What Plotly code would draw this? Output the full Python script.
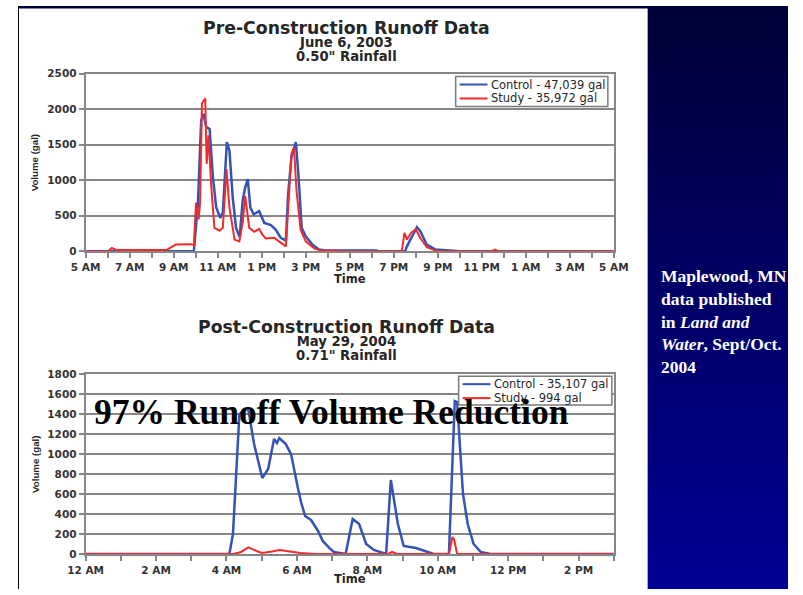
import plotly.graph_objects as go
from datetime import datetime, timedelta

W, H = 803, 595

# ---- Pre-construction event, June 6, 2003 (clock times, gallons) ----
pre_control_time = ["05:00", "09:55", "10:06", "10:15", "10:21", "10:29", "10:38", "10:47", "10:56",
                    "11:07", "11:14", "11:20", "11:25", "11:32", "11:41", "11:50", "12:00", "12:08",
                    "12:15", "12:22", "12:29", "12:38", "12:53", "13:07", "13:25", "13:38", "13:52",
                    "14:06", "14:12", "14:21", "14:33", "14:40", "14:49", "15:00", "15:18", "15:36",
                    "15:54", "18:12", "18:18", "19:31", "19:36", "19:48", "20:03", "20:12", "20:30",
                    "20:54", "21:54", "22:00", "05:00"]
pre_control_gal = [0, 0, 660, 1840, 1935, 1745, 1720, 1040, 615,
                   470, 545, 1085, 1535, 1415, 755, 330, 200, 710,
                   900, 1015, 615, 520, 565, 400, 370, 305, 190,
                   150, 800, 1320, 1535, 1085, 330, 210, 95, 25,
                   12, 10, 0, 0, 70, 190, 340, 285, 95,
                   25, 8, 0, 0]

pre_study_time = ["05:00", "06:02", "06:11", "06:24", "08:40", "09:06", "09:48", "09:55", "10:01",
                  "10:08", "10:12", "10:17", "10:21", "10:26", "10:30", "10:35", "10:42", "10:51",
                  "11:05", "11:14", "11:24", "11:32", "11:46", "11:59", "12:08", "12:15", "12:26",
                  "12:40", "12:53", "13:02", "13:11", "13:34", "13:47", "14:06", "14:15", "14:21",
                  "14:28", "14:35", "14:46", "15:00", "15:23", "15:41", "16:24", "16:30", "19:22",
                  "19:29", "19:36", "19:47", "20:00", "20:12", "20:30", "20:54", "21:12", "23:27",
                  "23:36", "23:48", "05:00"]
pre_study_gal = [0, 0, 47, 20, 18, 95, 100, 85, 685,
                 450, 680, 2080, 2110, 2150, 1230, 1630, 945, 330,
                 290, 330, 1155, 615, 165, 140, 400, 780, 330,
                 275, 315, 235, 180, 190, 140, 70, 850, 1370,
                 1460, 850, 305, 140, 40, 10, 8, 0, 0,
                 260, 165, 260, 310, 190, 57, 10, 0, 0,
                 25, 0, 0]

# ---- Post-construction event, May 29, 2004 ----
post_control_time = ["00:00", "04:05", "04:11", "04:22", "04:30", "04:37", "04:47", "05:01", "05:11",
                     "05:21", "05:26", "05:30", "05:41", "05:50", "06:02", "06:07", "06:14", "06:24",
                     "06:36", "06:44", "06:55", "07:03", "07:23", "07:35", "07:46", "07:58", "08:11",
                     "08:26", "08:32", "08:40", "08:52", "09:02", "09:23", "09:43", "09:53", "10:19",
                     "10:29", "10:33", "10:43", "10:51", "11:01", "11:13", "11:30", "15:00"]
post_control_gal = [0, 0, 200, 1400, 1440, 1450, 1100, 760, 850,
                    1150, 1110, 1160, 1100, 1000, 650, 520, 380, 340,
                    230, 130, 60, 20, 0, 350, 300, 100, 40,
                    10, 0, 740, 300, 80, 60, 20, 0, 0,
                    1530, 1520, 600, 300, 100, 20, 0, 0]

post_study_time = ["00:00", "04:12", "04:25", "04:37", "04:51", "05:00", "05:18", "05:30", "05:48",
                   "06:06", "06:30", "08:36", "08:42", "08:51", "10:19", "10:22", "10:25", "10:28",
                   "10:33", "15:00"]
post_study_gal = [0, 0, 20, 65, 30, 10, 25, 40, 25,
                  10, 0, 0, 20, 0, 0, 100, 170, 140,
                  0, 0]

pre_names = ["Control - 47,039 gal", "Study - 35,972 gal"]
post_names = ["Control - 35,107 gal", "Study - 994 gal"]
pre_title = ["Pre-Construction Runoff Data", "June 6, 2003", "0.50\" Rainfall"]
post_title = ["Post-Construction Runoff Data", "May 29, 2004", "0.71\" Rainfall"]


def stamps(day, times):
    """Clock strings -> datetimes, rolling to the next day when the clock wraps."""
    base = datetime.strptime(day, "%Y-%m-%d")
    out, offset, prev = [], 0, None
    for t in times:
        hh, mm = map(int, t.split(":"))
        cur = hh * 60 + mm
        if prev is not None and cur < prev:
            offset += 1
        prev = cur
        out.append(base + timedelta(days=offset, hours=hh, minutes=mm))
    return out


# Layout positions are given in slide pixels; the slide sits inset and slightly
# condensed inside the page, so convert slide pixels to paper fractions here.
INSET_X, INSET_Y = 16.0, 5.4
COND_X, COND_Y = 0.964, 0.981


def px_x(x):
    return (x - INSET_X) / COND_X / W


def px_y(y):
    return 1 - (y - INSET_Y) / COND_Y / H


def clamp(v):
    return min(1.0, max(0.0, v))


BLUE = "#3552b6"
RED = "#f42a2a"
GRID = "#868686"
TXT = "#262626"

fig = go.Figure()

series = [
    (stamps("2003-06-06", pre_control_time), pre_control_gal, pre_names[0], BLUE, 2.5, "x", "y"),
    (stamps("2003-06-06", pre_study_time), pre_study_gal, pre_names[1], RED, 2, "x", "y"),
    (stamps("2004-05-29", post_control_time), post_control_gal, post_names[0], BLUE, 2.5, "x2", "y2"),
    (stamps("2004-05-29", post_study_time), post_study_gal, post_names[1], RED, 2, "x2", "y2"),
]
for xs, ys, name, color, width, xa, ya in series:
    fig.add_trace(go.Scatter(x=xs, y=ys, name=name, mode="lines",
                             line=dict(color=color, width=width),
                             xaxis=xa, yaxis=ya, showlegend=False))

tick_font = dict(family="DejaVu Sans", size=10.5, color="#333333", weight="bold")

common_x = dict(type="date", showgrid=False, showline=True, mirror=True, linecolor=GRID,
                linewidth=2, ticks="outside", ticklen=5, tickwidth=1.5, tickcolor=GRID,
                tickformat="%-I %p", dtick=7200000, tickfont=tick_font, zeroline=False,
                minor=dict(dtick=3600000, ticks="outside", ticklen=5, tickwidth=1.5,
                           tickcolor=GRID, showgrid=False))
common_y = dict(showgrid=True, gridcolor=GRID, gridwidth=1.5, showline=True, mirror=True,
                linecolor=GRID, linewidth=2, ticks="outside", ticklen=5, tickwidth=1.5,
                tickcolor=GRID, tickfont=tick_font, zeroline=False)

fig.update_layout(
    width=W, height=H, margin=dict(l=0, r=0, t=0, b=0),
    paper_bgcolor="white", plot_bgcolor="rgba(0,0,0,0)",
    hovermode=False, showlegend=False,
    xaxis=dict(common_x, domain=[px_x(84), px_x(615)], anchor="y",
               range=["2003-06-06 05:00", "2003-06-07 05:00"], tick0="2003-06-06 05:00"),
    yaxis=dict(common_y, domain=[px_y(251), px_y(73)], anchor="x", range=[0, 2500], dtick=500),
    xaxis2=dict(common_x, domain=[px_x(84), px_x(615)], anchor="y2",
                range=["2004-05-29 00:00", "2004-05-29 15:00"], tick0="2004-05-29 00:00"),
    yaxis2=dict(common_y, domain=[px_y(554), px_y(374)], anchor="x2", range=[0, 1800], dtick=200),
)

# Slide background: black frame edge, vertical navy gradient, white content panel
shapes = [dict(type="rect", xref="paper", yref="paper", x0=0, x1=clamp(px_x(17)), y0=0, y1=1,
               fillcolor="black", line=dict(width=0), layer="below")]
bands = 100
top_c, bot_c = (0, 0, 0x38), (0, 0, 0x96)
for i in range(bands):
    f = i / (bands - 1)
    col = "rgb(%d,%d,%d)" % tuple(round(a + (b - a) * f) for a, b in zip(top_c, bot_c))
    y0 = i / bands
    y1 = min((i + 1) / bands + 0.002, 1.0)
    shapes.append(dict(type="rect", xref="paper", yref="paper", x0=clamp(px_x(17)), x1=1,
                       y0=1 - y1, y1=1 - y0, fillcolor=col, line=dict(width=0), layer="below"))
shapes.append(dict(type="rect", xref="paper", yref="paper", x0=clamp(px_x(17)), x1=px_x(649),
                   y0=clamp(px_y(591)), y1=px_y(8), fillcolor="white", line=dict(width=0),
                   layer="below"))


def note(text, x, y, size, family="DejaVu Sans", color=TXT, bold=True, angle=0,
         xanchor="center", yanchor="middle", **kw):
    fig.add_annotation(text=text, x=px_x(x), y=px_y(y), xref="paper", yref="paper",
                       showarrow=False, textangle=angle, xanchor=xanchor, yanchor=yanchor,
                       font=dict(family=family, size=size, color=color,
                                 weight="bold" if bold else "normal"), **kw)


# Legend boxes for the two charts
def legend_box(x0, y0, x1, y1, rows):
    shapes.append(dict(type="rect", xref="paper", yref="paper", x0=px_x(x0), x1=px_x(x1),
                       y0=px_y(y1), y1=px_y(y0), fillcolor="white",
                       line=dict(color="#7a7a7a", width=1.5), layer="above"))
    for ry, color, label in rows:
        shapes.append(dict(type="line", xref="paper", yref="paper", x0=px_x(x0 + 4),
                           x1=px_x(x0 + 32), y0=px_y(ry), y1=px_y(ry),
                           line=dict(color=color, width=2), layer="above"))
        note(label, x0 + 34, ry, 11.5, bold=False, xanchor="left")


legend_box(456, 76, 609, 106, [(84, BLUE, pre_names[0]), (98, RED, pre_names[1])])
legend_box(459, 376, 613, 405, [(384, BLUE, post_names[0]), (398, RED, post_names[1])])

shapes.append(dict(type="circle", xref="paper", yref="paper", x0=px_x(522), x1=px_x(526),
                   y0=px_y(402), y1=px_y(398), fillcolor="black", line=dict(width=0),
                   layer="above"))
fig.update_layout(shapes=shapes)


def title_block(lines):
    return ("<span style='font-size:17.3px'>%s</span><br>"
            "<span style='font-size:13.2px'>%s</span><br>"
            "<span style='font-size:13.2px'>%s</span>" % tuple(lines))


# Chart titles (three stacked lines each)
note(title_block(pre_title), 346, 40, 10.2)
note(title_block(post_title), 346, 339.5, 10.2)

# Axis titles
note("Volume (gal)", 33, 162, 9.7, family="Liberation Sans", angle=-90)
note("Volume (gal)", 33, 464, 9.7, family="Liberation Sans", angle=-90)
note("Time", 350, 279, 11.5)
note("Time", 350, 579, 11.5)

# Headline and source note
note("97% Runoff Volume Reduction", 331, 412, 35.5, family="Liberation Serif", color="black")
note("Maplewood, MN<br>data published<br>in <i>Land and</i><br><i>Water</i>, Sept/Oct.<br>2004",
     660, 321.5, 17.5, family="Liberation Serif", color="white", xanchor="left", align="left")

fig.write_html("out.html")
